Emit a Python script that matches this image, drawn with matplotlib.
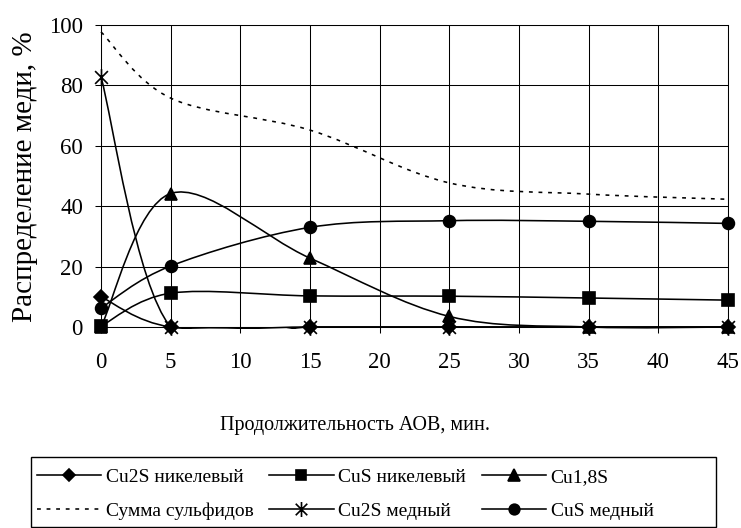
import numpy as np
import matplotlib.pyplot as plt
from matplotlib.path import Path
from matplotlib.patches import PathPatch, Rectangle
from matplotlib.lines import Line2D

plt.rcParams['font.family'] = ['Liberation Serif', 'DejaVu Serif']

# ---- data ----
time_min = [0, 5, 15, 25, 35, 45]
cu2s_ni = [10, 0, 0, 0, 0, 0]             # Cu2S никелевый
cus_ni = [0.3, 11.2, 10.3, 10.2, 9.6, 8.9]  # CuS никелевый
cu18s = [0, 44.2, 22.8, 3.5, 0, 0]         # Cu1,8S
sulfide_sum = [97.7, 75.8, 65.2, 47.7, 44, 42.3]  # Сумма сульфидов
cu2s_cu = [82.8, 0, 0, 0, 0, 0]            # Cu2S медный
cus_cu = [6.3, 20.2, 33, 35.2, 35, 34.3]   # CuS медный

x_ticks = [0, 5, 10, 15, 20, 25, 30, 35, 40, 45]
y_ticks = [0, 20, 40, 60, 80, 100]

# asterisk marker (X with a vertical bar), like Excel's star marker
star = Path([(-1, -1), (1, 1), (-1, 1), (1, -1), (0, -1.3), (0, 1.3)],
            [Path.MOVETO, Path.LINETO] * 3)


def smooth_path(x, y):
    # Excel style smoothed line: cubic Bezier segments through the points
    pts = np.column_stack([x, y]).astype(float)
    n = len(pts)
    verts = [pts[0]]
    codes = [Path.MOVETO]
    for i in range(n - 1):
        p0 = pts[max(i - 1, 0)]
        p1 = pts[i]
        p2 = pts[i + 1]
        p3 = pts[min(i + 2, n - 1)]
        verts += [p1 + (p2 - p0) / 6, p2 - (p3 - p1) / 6, p2]
        codes += [Path.CURVE4] * 3
    return Path(verts, codes)


W, H = 741, 528
fig = plt.figure(figsize=(W / 100, H / 100), dpi=100)
ax = fig.add_axes([101 / W, 1 - 327 / H, 627 / W, 302 / H])

ax.set_xlim(0, 45)
ax.set_ylim(0, 100)
ax.set_xticks(x_ticks)
ax.set_yticks(y_ticks)
ax.grid(True, color='black', lw=0.75)
ax.set_axisbelow(True)
for s in ax.spines.values():
    s.set_color('black')
    s.set_linewidth(0.75)
ax.tick_params(direction='out', length=4, width=0.75, colors='black', labelsize=16.5)
ax.tick_params(axis='x', pad=14)
ax.tick_params(axis='y', pad=9)

# clip a little below y=0 so lines lying on the axis keep full width
clip_rect = Rectangle((-1, -0.5), 47, 101.5, transform=ax.transData,
                      fill=False, visible=False)
ax.add_patch(clip_rect)

series = [
    (cu2s_ni, 'D', 7, '-', 'Cu2S никелевый'),
    (cus_ni, 's', 8, '-', 'CuS никелевый'),
    (cu18s, '^', 9, '-', 'Cu1,8S'),
    (sulfide_sum, None, 0, (0, (2.4, 3.6)), 'Сумма сульфидов'),
    (cu2s_cu, star, 12, '-', 'Cu2S медный'),
    (cus_cu, 'o', 8.5, '-', 'CuS медный'),
]

handles = []
for vals, mk, ms, ls, lab in series:
    patch = PathPatch(smooth_path(time_min, vals), facecolor='none',
                      edgecolor='black', lw=1.15, linestyle=ls, zorder=3)
    ax.add_patch(patch)
    patch.set_clip_path(clip_rect)
    if mk is not None:
        ax.plot(time_min, vals, linestyle='none', marker=mk, ms=ms,
                color='black', mec='black', mew=1.2, clip_on=False, zorder=4)
    handles.append(Line2D([], [], color='black', lw=1.15, linestyle=ls,
                          marker=mk, ms=ms * 0.9, mew=1.2))

fig.text(25 / W, 1 - 177 / H, 'Распределение меди, %', rotation=90,
         ha='center', va='center', fontsize=21)
fig.text(355 / W, 1 - 430 / H, 'Продолжительность АОВ, мин.',
         ha='center', va='baseline', fontsize=14.5)

# legend box drawn separately, entries laid out row by row (3 per row)
fig.add_artist(Rectangle((31 / W, 1 - 527 / H), 685 / W, 70 / H,
                         transform=fig.transFigure, fill=False,
                         edgecolor='black', lw=1.0))
order = [0, 3, 1, 4, 2, 5]
fig.legend([handles[i] for i in order], [series[i][4] for i in order],
           ncol=3, loc='upper left', bbox_to_anchor=(37 / W, 1 - 468 / H),
           frameon=False, fontsize=14, handlelength=3.3, handletextpad=0.25,
           columnspacing=0.8, borderpad=0, borderaxespad=0, labelspacing=0.85,
           numpoints=1)

fig.savefig('out.png', dpi=100)
